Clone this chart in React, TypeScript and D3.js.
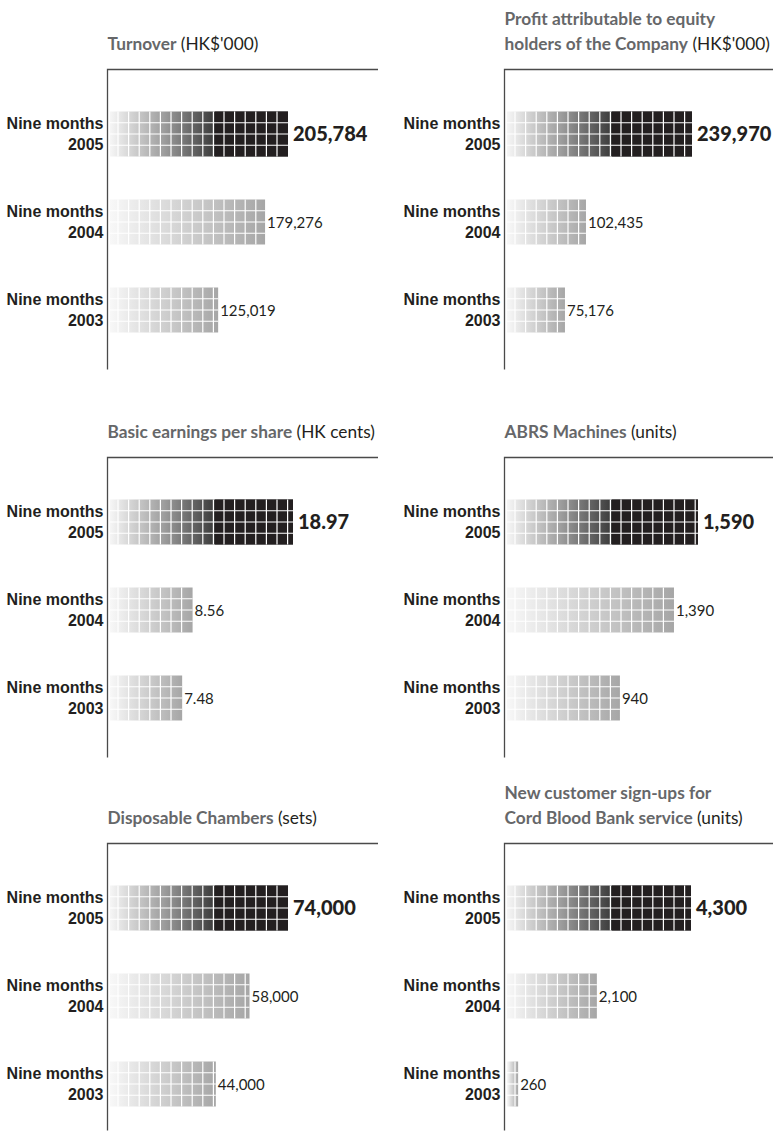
import React from "react";
import * as d3 from "d3";

// ---------- data ----------
const periods = ["2005", "2004", "2003"];
const rowPrefix = "Nine months";
const turnover = [205784, 179276, 125019];
const profit = [239970, 102435, 75176];
const eps = [18.97, 8.56, 7.48];
const abrsMachines = [1590, 1390, 940];
const disposableChambers = [74000, 58000, 44000];
const cordBloodSignups = [4300, 2100, 260];

const titleBoldLines = [
  ["Turnover"],
  ["Profit attributable to equity", "holders of the Company"],
  ["Basic earnings per share"],
  ["ABRS Machines"],
  ["Disposable Chambers"],
  ["New customer sign-ups for", "Cord Blood Bank service"],
];
const titleUnits = ["(HK$'000)", "(HK$'000)", "(HK cents)", "(units)", "(sets)", "(units)"];
const seriesList = [turnover, profit, eps, abrsMachines, disposableChambers, cordBloodSignups];
const formats = [",", ",", ".2f", ",", ",", ","];

// ---------- layout ----------
const W = 773;
const H = 1138;
const colFrameX = [107.5, 504.5];
const colRight = [378, 773];
const rowTop = [69.5, 457.5, 843.5];
const frameHeight = 300;
const fullWidths = [178, 185, 183, 191, 178, 184];
const darkRun = 105;
const cellW = 10.6;
const barGap = 2.5;

const ink = "#231f20";
const titleGray = "#666769";
const sans = "Lato, 'Open Sans', sans-serif";
const labelFont = "'Liberation Sans', Arial, sans-serif";

function Panel({ idx }: { idx: number }) {
  const col = idx % 2;
  const row = Math.floor(idx / 2);
  const fx = colFrameX[col];
  const top = rowTop[row];
  const bottom = Math.min(top + frameHeight, H - 7.5);
  const x0 = fx + barGap;
  const values = seriesList[idx];
  const x = d3.scaleLinear().domain([0, d3.max(values) as number]).range([x0, x0 + fullWidths[idx]]);
  const y = d3
    .scaleBand<string>()
    .domain(periods)
    .range([top + 42, top + 263])
    .paddingInner(43 / 88)
    .paddingOuter(0);
  const bh = y.bandwidth();
  const fmt = d3.format(formats[idx]);
  const bold = titleBoldLines[idx];
  const titleBase = top - 20;

  return (
    <g>
      <defs>
        <linearGradient id={`dark-${idx}`} gradientUnits="userSpaceOnUse" x1={x0} x2={x0 + darkRun} y1={0} y2={0}>
          <stop offset="0" stopColor="#f6f6f6" />
          <stop offset="0.5" stopColor="#a0a0a0" />
          <stop offset="1" stopColor="#3a3a3a" />
        </linearGradient>
        <linearGradient id={`light-${idx}`} x1="0" x2="1" y1="0" y2="0">
          <stop offset="0" stopColor="#f8f8f8" />
          <stop offset="1" stopColor="#a6a6a6" />
        </linearGradient>
      </defs>
      {bold.map((ln, li) => {
        const last = li === bold.length - 1;
        return (
          <text
            key={li}
            x={fx}
            y={titleBase - (bold.length - 1 - li) * 25}
            fontFamily={sans}
            fontSize={17.3}
          >
            <tspan fill={titleGray} fontWeight={700}>{ln}</tspan>
            {last && <tspan fill={ink} fontWeight={400}>{" " + titleUnits[idx]}</tspan>}
          </text>
        );
      })}
      <path
        d={`M${fx},${bottom}V${top}H${colRight[col]}`}
        fill="none"
        stroke="#4a4a4a"
        strokeWidth={1.3}
      />
      {periods.map((p, i) => {
        const yy = y(p) as number;
        const xe = x(values[i]);
        const w = xe - x0;
        const cy = yy + bh / 2;
        const isMain = i === 0;
        const vlines = d3.range(x0 + 8, xe - 1, cellW);
        return (
          <g key={p}>
            <text
              x={fx - 4}
              y={cy - 5}
              textAnchor="end"
              fontFamily={labelFont}
              fontWeight={700}
              fontSize={16}
              fill={ink}
            >
              {rowPrefix}
            </text>
            <text
              x={fx - 4}
              y={cy + 16}
              textAnchor="end"
              fontFamily={labelFont}
              fontWeight={700}
              fontSize={16}
              fill={ink}
            >
              {p}
            </text>
            <rect
              x={x0}
              y={yy}
              width={w}
              height={bh}
              fill={isMain ? `url(#dark-${idx})` : `url(#light-${idx})`}
            />
            {isMain && w > darkRun && (
              <rect x={x0 + darkRun} y={yy} width={w - darkRun} height={bh} fill={ink} />
            )}
            {vlines.map((vx, k) => (
              <line key={k} x1={vx} x2={vx} y1={yy} y2={yy + bh} stroke="#fff" strokeWidth={1.2} />
            ))}
            {[1, 2, 3].map((k) => (
              <line
                key={`h${k}`}
                x1={x0}
                x2={xe}
                y1={yy + (bh * k) / 4}
                y2={yy + (bh * k) / 4}
                stroke="#fff"
                strokeWidth={1.2}
              />
            ))}
            {isMain ? (
              <text x={xe + 5} y={cy + 7} fontFamily={sans} fontWeight={900} fontSize={20} fill={ink}>
                {fmt(values[i])}
              </text>
            ) : (
              <text x={xe + 2} y={cy + 5.5} fontFamily={sans} fontWeight={400} fontSize={15} fill={ink}>
                {fmt(values[i])}
              </text>
            )}
          </g>
        );
      })}
    </g>
  );
}

export default function App() {
  return (
    <svg
      width={W}
      height={H}
      viewBox={`0 0 ${W} ${H}`}
      style={{ position: "absolute", left: 0, top: 0, background: "#fff" }}
    >
      <rect width={W} height={H} fill="#fff" />
      {seriesList.map((_, i) => (
        <Panel key={i} idx={i} />
      ))}
    </svg>
  );
}
